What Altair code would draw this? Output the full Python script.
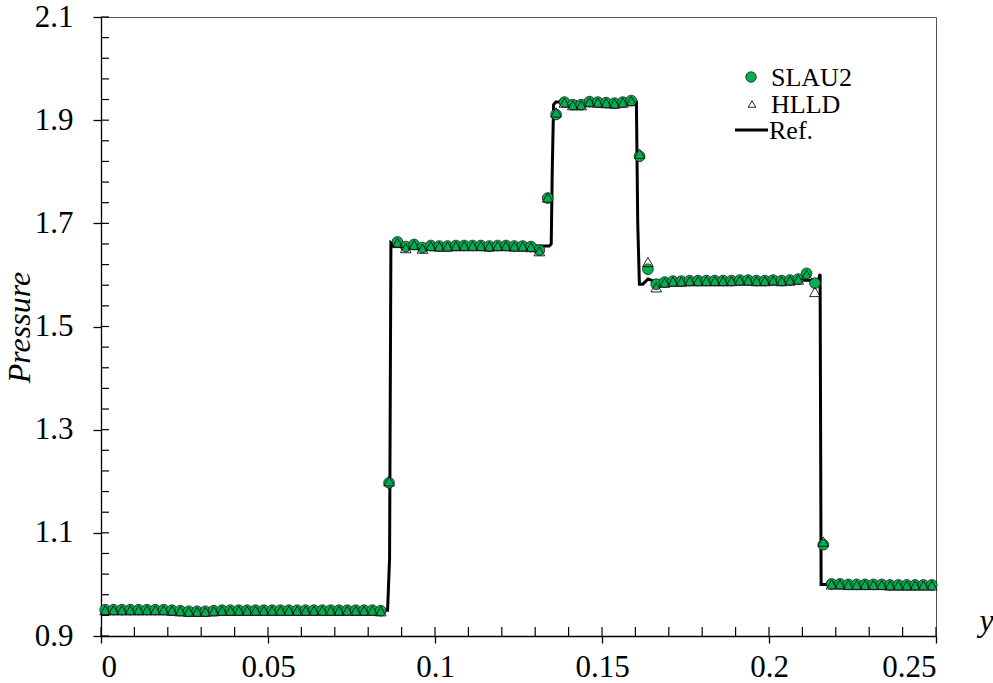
import altair as alt
import pandas as pd

FONT = "Liberation Serif, Times New Roman, serif"

# cell centres (grid of 100 cells on [0, 0.25])
x_cells = [
    0.00125, 0.00375, 0.00625, 0.00875, 0.01125, 0.01375, 0.01625, 0.01875, 0.02125, 0.02375,
    0.02625, 0.02875, 0.03125, 0.03375, 0.03625, 0.03875, 0.04125, 0.04375, 0.04625, 0.04875,
    0.05125, 0.05375, 0.05625, 0.05875, 0.06125, 0.06375, 0.06625, 0.06875, 0.07125, 0.07375,
    0.07625, 0.07875, 0.08125, 0.08375, 0.08625, 0.08875, 0.09125, 0.09375, 0.09625, 0.09875,
    0.10125, 0.10375, 0.10625, 0.10875, 0.11125, 0.11375, 0.11625, 0.11875, 0.12125, 0.12375,
    0.12625, 0.12875, 0.13125, 0.13375, 0.13625, 0.13875, 0.14125, 0.14375, 0.14625, 0.14875,
    0.15125, 0.15375, 0.15625, 0.15875, 0.16125, 0.16375, 0.16625, 0.16875, 0.17125, 0.17375,
    0.17625, 0.17875, 0.18125, 0.18375, 0.18625, 0.18875, 0.19125, 0.19375, 0.19625, 0.19875,
    0.20125, 0.20375, 0.20625, 0.20875, 0.21125, 0.21375, 0.21625, 0.21875, 0.22125, 0.22375,
    0.22625, 0.22875, 0.23125, 0.23375, 0.23625, 0.23875, 0.24125, 0.24375, 0.24625, 0.24875,
]

slau2 = [
    0.951, 0.951, 0.951, 0.951, 0.951, 0.951, 0.951, 0.951, 0.950, 0.949,
    0.948, 0.948, 0.948, 0.949, 0.950, 0.950, 0.950, 0.950, 0.950, 0.950,
    0.950, 0.950, 0.950, 0.950, 0.950, 0.950, 0.950, 0.950, 0.950, 0.950,
    0.950, 0.950, 0.950, 0.949, 1.197, 1.664, 1.655, 1.659, 1.653, 1.657,
    1.656, 1.656, 1.657, 1.657, 1.657, 1.657, 1.656, 1.657, 1.657, 1.656,
    1.656, 1.655, 1.648, 1.749, 1.911, 1.935, 1.930, 1.930, 1.936, 1.935,
    1.934, 1.933, 1.935, 1.938, 1.830, 1.611, 1.582, 1.586, 1.588, 1.588,
    1.589, 1.589, 1.589, 1.589, 1.589, 1.589, 1.590, 1.590, 1.589, 1.589,
    1.590, 1.589, 1.590, 1.592, 1.603, 1.584, 1.077, 1.001, 1.001, 1.000,
    1.000, 1.000, 1.000, 1.000, 0.999, 0.999, 0.999, 0.999, 0.999, 0.999,
]

hlld = [
    0.950, 0.950, 0.950, 0.950, 0.950, 0.950, 0.950, 0.950, 0.949, 0.948,
    0.947, 0.947, 0.947, 0.948, 0.949, 0.949, 0.949, 0.949, 0.949, 0.949,
    0.949, 0.949, 0.949, 0.949, 0.949, 0.949, 0.949, 0.949, 0.949, 0.949,
    0.949, 0.949, 0.949, 0.948, 1.200, 1.662, 1.652, 1.658, 1.651, 1.656,
    1.655, 1.655, 1.656, 1.656, 1.656, 1.656, 1.655, 1.656, 1.656, 1.655,
    1.655, 1.654, 1.646, 1.750, 1.915, 1.934, 1.929, 1.929, 1.935, 1.934,
    1.933, 1.932, 1.934, 1.937, 1.835, 1.625, 1.576, 1.585, 1.587, 1.587,
    1.588, 1.588, 1.588, 1.588, 1.588, 1.588, 1.589, 1.589, 1.588, 1.588,
    1.589, 1.588, 1.589, 1.591, 1.600, 1.567, 1.083, 1.000, 1.000, 0.999,
    0.999, 0.999, 0.999, 0.999, 0.998, 0.998, 0.998, 0.998, 0.998, 0.998,
]

ref_x = [0.0, 0.0858, 0.0864, 0.0868, 0.0878, 0.1342, 0.1348, 0.1351, 0.1355, 0.1362,
         0.1603, 0.1607, 0.1612, 0.1622, 0.1638, 0.1655, 0.2148, 0.2153, 0.2156, 0.25]
ref_y = [0.950, 0.950, 1.05, 1.662, 1.656, 1.656, 1.660, 1.80, 1.930, 1.935,
         1.935, 1.70, 1.582, 1.582, 1.592, 1.588, 1.590, 1.602, 1.000, 1.000]

x_major = [0.0, 0.05, 0.1, 0.15, 0.2, 0.25]
y_major = [0.9, 1.1, 1.3, 1.5, 1.7, 1.9, 2.1]
x_minor = [0.0, 0.01, 0.02, 0.03, 0.04, 0.05, 0.06, 0.07, 0.08, 0.09, 0.1, 0.11, 0.12, 0.13,
           0.14, 0.15, 0.16, 0.17, 0.18, 0.19, 0.2, 0.21, 0.22, 0.23, 0.24, 0.25]
y_minor = [0.9, 0.94, 0.98, 1.02, 1.06, 1.1, 1.14, 1.18, 1.22, 1.26, 1.3, 1.34, 1.38, 1.42,
           1.46, 1.5, 1.54, 1.58, 1.62, 1.66, 1.7, 1.74, 1.78, 1.82, 1.86, 1.9, 1.94, 1.98,
           2.02, 2.06, 2.1]
series_names = ["SLAU2", "HLLD", "Ref."]

W, H = 835, 619
GREEN = "#00b050"

xs = alt.Scale(domain=[0, 0.25], nice=False, zero=False)
ys = alt.Scale(domain=[0.9, 2.1], nice=False, zero=False)

x_axis = alt.Axis(values=x_major, format=".2~f", grid=False, domainColor="black",
                  domainWidth=1.3, tickColor="black", tickWidth=1.3, tickSize=7,
                  labelFont=FONT, labelFontSize=31, labelColor="black", labelPadding=9,
                  title="y", titleFont=FONT, titleFontSize=32, titleFontStyle="italic",
                  titleFontWeight="normal", titleColor="black", titleX=885, titleY=-6,
                  titleAlign="center", titleBaseline="alphabetic", titleAngle=0)
y_axis = alt.Axis(values=y_major, format=".1f", grid=False, domainColor="black",
                  domainWidth=1.3, tickColor="black", tickWidth=1.3, tickSize=8,
                  labelFont=FONT, labelFontSize=31, labelColor="black", labelPadding=20,
                  title="Pressure", titleFont=FONT, titleFontSize=32, titleFontStyle="italic",
                  titleFontWeight="normal", titleColor="black", titleX=-72, titleY=310,
                  titleAlign="center", titleBaseline="alphabetic", titleAngle=-90)

ref_df = pd.DataFrame({"x": ref_x, "p": ref_y})
pts = pd.DataFrame({"x": x_cells, "slau2": slau2, "hlld": hlld})

ref_line = alt.Chart(ref_df).mark_line(color="black", strokeWidth=3, strokeJoin="miter").encode(
    x=alt.X("x:Q", scale=xs, axis=x_axis),
    y=alt.Y("p:Q", scale=ys, axis=y_axis),
    order="x:Q",
)

circles = alt.Chart(pts).mark_point(shape="circle", filled=True, fill=GREEN, fillOpacity=1,
                                    stroke="#1a1a1a", strokeWidth=0.8, size=115, opacity=1).encode(
    x=alt.X("x:Q", scale=xs), y=alt.Y("slau2:Q", scale=ys))

tris = alt.Chart(pts).mark_point(shape="triangle-up", filled=False, stroke="#111111",
                                 strokeWidth=0.9, size=115, opacity=1).encode(
    x=alt.X("x:Q", scale=xs), y=alt.Y("hlld:Q", scale=ys))

xminor = alt.Chart(pd.DataFrame({"v": x_minor})).mark_rule(color="black", strokeWidth=1.2).encode(
    x=alt.X("v:Q", scale=xs), y=alt.value(H), y2=alt.value(H - 9))
yminor = alt.Chart(pd.DataFrame({"v": y_minor})).mark_rule(color="black", strokeWidth=1.2).encode(
    y=alt.Y("v:Q", scale=ys), x=alt.value(0), x2=alt.value(8))

one = pd.DataFrame({"a": [0]})
leg_c = alt.Chart(one).mark_point(shape="circle", filled=True, fill=GREEN, stroke="#1a1a1a",
                                  strokeWidth=0.8, size=110, opacity=1).encode(
    x=alt.value(650), y=alt.value(60))
leg_t = alt.Chart(one).mark_point(shape="triangle-up", filled=True, fill="white", stroke="#111111",
                                  strokeWidth=0.9, size=60, opacity=1).encode(
    x=alt.value(651), y=alt.value(87))
leg_l = alt.Chart(one).mark_rule(color="black", strokeWidth=3).encode(
    x=alt.value(634), x2=alt.value(667), y=alt.value(113))
leg_txt = []
for name, yy in zip(series_names, [60, 87, 113]):
    leg_txt.append(
        alt.Chart(pd.DataFrame({"t": [name]})).mark_text(
            font=FONT, fontSize=26, color="black", align="left", baseline="middle", dy=1).encode(
            text="t:N", x=alt.value(670 if name != "Ref." else 668), y=alt.value(yy)))

chart = alt.layer(ref_line, circles, tris, xminor, yminor, leg_c, leg_t, leg_l, *leg_txt).properties(
    width=W, height=H,
    autosize=alt.AutoSizeParams(type="none"),
    padding={"left": 101, "top": 17, "right": 57, "bottom": 47},
    background="white",
).configure_view(stroke="#555555", strokeWidth=1)

chart.save("out.html", embed_options={"renderer": "svg", "actions": False})
